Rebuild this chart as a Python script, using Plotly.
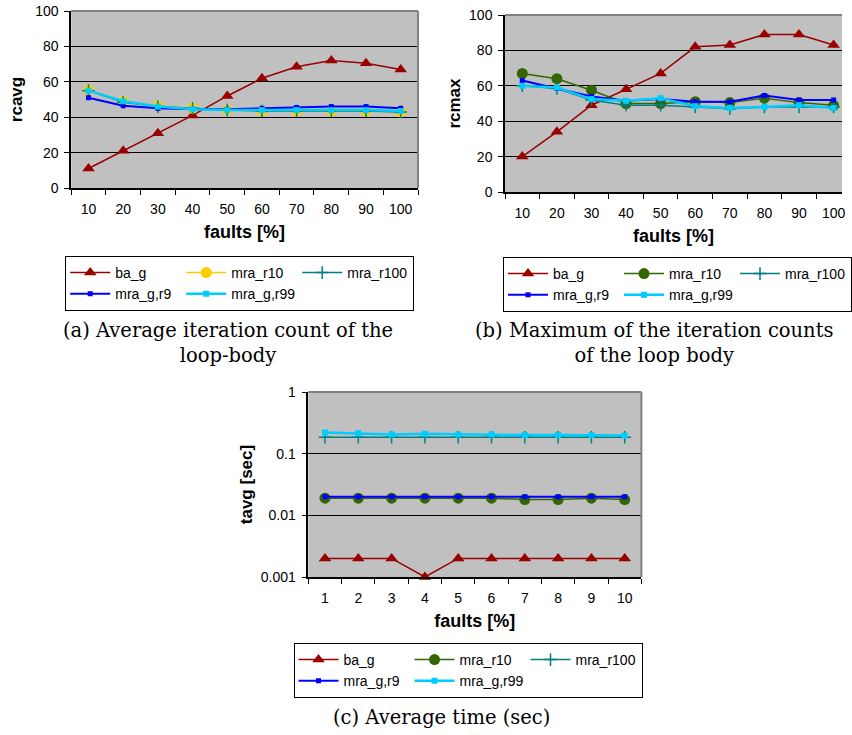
import plotly.graph_objects as go

W, H = 852, 735

# ---------------- data ----------------
faults_ab = ["10", "20", "30", "40", "50", "60", "70", "80", "90", "100"]
faults_c = ["1", "2", "3", "4", "5", "6", "7", "8", "9", "10"]
series_names = ["ba_g", "mra_r10", "mra_r100", "mra_g,r9", "mra_g,r99"]

a_ba_g = [11, 21, 31, 41, 52, 62, 68.5, 72, 70.5, 67]
a_mra_r10 = [55.5, 49, 46.5, 45, 44, 43.5, 43.5, 43.5, 43.5, 43]
a_mra_r100 = [55, 48.5, 46, 45, 44, 43.5, 43.5, 43.5, 43.5, 43]
a_mra_g_r9 = [51, 46.5, 45, 44.5, 44.5, 45, 45.5, 46, 46, 45]
a_mra_g_r99 = [55, 49, 46, 44.5, 44, 44, 44, 44, 44, 43.5]

b_ba_g = [20, 34, 49, 58, 67, 82, 83, 89, 89, 83]
b_mra_r10 = [67, 64, 57.5, 50, 50, 51, 50.5, 53, 50.5, 49]
b_mra_r100 = [60, 58.5, 52, 49, 49, 48, 47, 48, 48, 48]
b_mra_g_r9 = [63, 58.5, 54, 51.5, 52.5, 51, 51, 54.5, 52, 52]
b_mra_g_r99 = [60, 59, 52.5, 51.5, 53, 48.5, 47.5, 48, 49, 47.5]

c_ba_g = [0.002, 0.002, 0.002, 0.001, 0.002, 0.002, 0.002, 0.002, 0.002, 0.002]
c_mra_r10 = [0.019, 0.019, 0.019, 0.019, 0.019, 0.019, 0.018, 0.018, 0.019, 0.018]
c_mra_r100 = [0.185, 0.185, 0.185, 0.185, 0.185, 0.185, 0.185, 0.185, 0.185, 0.185]
c_mra_g_r9 = [0.02, 0.02, 0.02, 0.02, 0.02, 0.02, 0.02, 0.02, 0.02, 0.02]
c_mra_g_r99 = [0.22, 0.215, 0.205, 0.21, 0.205, 0.205, 0.2, 0.2, 0.2, 0.197]

ytick_c_vals = [0.001, 0.01, 0.1, 1]
ytick_c_text = ["0.001", "0.01", "0.1", "1"]

# ---------------- styles ----------------
SANS = "Liberation Sans, Arial, sans-serif"
SERIF = "DejaVu Serif, serif"
RED = "#990000"
YELLOW = "#FFCC00"
GREEN = "#336600"
TEAL = "#008080"
BLUE = "#0000FF"
CYAN = "#00CCFF"


def px(x):
    return x / W


def py(y):
    return 1 - y / H


def style(name, r10color):
    if name == "ba_g":
        return dict(line=dict(color=RED, width=1.5),
                    marker=dict(symbol="triangle-up", size=11, color=RED))
    if name == "mra_r10":
        return dict(line=dict(color=r10color, width=1.5),
                    marker=dict(symbol="circle", size=11, color=r10color))
    if name == "mra_r100":
        return dict(line=dict(color=TEAL, width=1.5),
                    marker=dict(symbol="cross-thin", size=9,
                                line=dict(color=TEAL, width=1.5)))
    if name == "mra_g,r9":
        return dict(line=dict(color=BLUE, width=2),
                    marker=dict(symbol="square", size=5, color=BLUE))
    return dict(line=dict(color=CYAN, width=2.5),
                marker=dict(symbol="square", size=6, color=CYAN))


groups = {"ba_g": "g1", "mra_g,r9": "g1", "mra_r10": "g2", "mra_g,r99": "g2", "mra_r100": "g3"}

fig = go.Figure()

panels = [
    ("x", "y", "legend", faults_ab, [a_ba_g, a_mra_r10, a_mra_r100, a_mra_g_r9, a_mra_g_r99], YELLOW, "a"),
    ("x2", "y2", "legend2", faults_ab, [b_ba_g, b_mra_r10, b_mra_r100, b_mra_g_r9, b_mra_g_r99], GREEN, "b"),
    ("x3", "y3", "legend3", faults_c, [c_ba_g, c_mra_r10, c_mra_r100, c_mra_g_r9, c_mra_g_r99], GREEN, "c"),
]

for xa, ya, leg, cats, vals, r10c, tag in panels:
    for name, v in zip(series_names, vals):
        fig.add_trace(go.Scatter(
            x=cats, y=v, name=name, mode="lines+markers",
            xaxis=xa, yaxis=ya, legend=leg,
            legendgroup=tag + groups[name],
            cliponaxis=False,
            **style(name, r10c)))

tickfont = dict(family=SANS, size=14, color="black")
titlefont = dict(family=SANS, size=17, color="black", weight="bold")


def xaxis(domain, anchor, rng):
    return dict(domain=domain, anchor=anchor, type="category", range=rng,
                tickson="boundaries", ticks="outside", ticklen=5, tickcolor="black",
                showline=True, linecolor="black", linewidth=1.5, showgrid=False,
                tickfont=tickfont, ticklabelstandoff=7, automargin=False,
                title=dict(text="faults [%]", font=dict(family=SANS, size=18, color="black", weight="bold"),
                           standoff=10))


def yaxis(domain, anchor, title, standoff, **kw):
    d = dict(domain=domain, anchor=anchor, ticks="outside", ticklen=5, tickcolor="black",
             showline=True, linecolor="black", linewidth=1.5, showgrid=True,
             gridcolor="black", gridwidth=1, zeroline=False, tickfont=tickfont,
             ticklabelstandoff=3, automargin=False,
             title=dict(text=title, font=titlefont, standoff=standoff))
    d.update(kw)
    return d


legend_common = dict(orientation="h", traceorder="grouped", entrywidth=61,
                     entrywidthmode="pixels", itemwidth=40, bgcolor="white",
                     bordercolor="black", borderwidth=1,
                     font=dict(family=SANS, size=14, color="black"),
                     xanchor="left", yanchor="top", tracegroupgap=0)

fig.update_layout(
    width=W, height=H, template="none",
    margin=dict(l=0, r=0, t=0, b=0),
    paper_bgcolor="white", plot_bgcolor="#C0C0C0",
    showlegend=True,
    xaxis=xaxis([px(72), px(423)], "y", [-0.5, 9.5]),
    yaxis=yaxis([py(188), py(11)], "x", "rcavg", 8, range=[0, 100], dtick=20),
    xaxis2=xaxis([px(511), 1.0], "y2", [-0.5, 9.243]),
    yaxis2=yaxis([py(192), py(15)], "x2", "rcmax", 4, range=[0, 100], dtick=20),
    xaxis3=xaxis([px(312), px(649)], "y3", [-0.5, 9.5]),
    yaxis3=yaxis([py(577), py(392)], "x3", "tavg [sec]", 4, type="log", range=[-3, 0],
                 tickvals=ytick_c_vals, ticktext=ytick_c_text),
    legend=dict(x=px(66), y=py(256), **legend_common),
    legend2=dict(x=px(509), y=py(257), **legend_common),
    legend3=dict(x=px(297), y=py(643), **legend_common),
)

# plot-area borders (top / right) in gray, like the original
border = dict(color="#808080", width=2)
for xr, yr, right in [("x domain", "y domain", True), ("x2 domain", "y2 domain", False),
                      ("x3 domain", "y3 domain", True)]:
    fig.add_shape(type="line", xref=xr, yref=yr, x0=0, x1=1, y0=1, y1=1, line=border)
    if right:
        fig.add_shape(type="line", xref=xr, yref=yr, x0=1, x1=1, y0=0, y1=1, line=border)

capfont = dict(family=SERIF, size=19.5, color="black")
captions = [
    ("(a) Average iteration count of the<br>loop-body", 231, 343),
    ("(b) Maximum of the iteration counts<br>of the loop body", 662, 343),
    ("(c) Average time (sec)", 447, 717),
]
for text, cx, cy in captions:
    fig.add_annotation(text=text, xref="paper", yref="paper", x=px(cx), y=py(cy),
                       xanchor="center", yanchor="middle", showarrow=False,
                       font=capfont, align="center")

fig.write_html("out.html")
